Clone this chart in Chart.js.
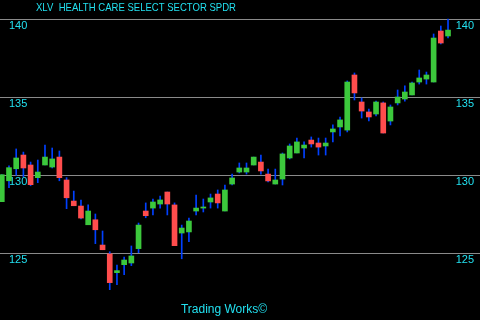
<!DOCTYPE html>
<html>
<head>
<meta charset="utf-8">
<script src="https://cdn.jsdelivr.net/npm/chart.js@4/dist/chart.umd.min.js"></script>
<style>
html,body{margin:0;padding:0;background:#000;}
canvas{display:block;}
</style>
</head>
<body>
<canvas id="c" width="480" height="320"></canvas>
<script>
const chartTitle = "XLV  HEALTH CARE SELECT SECTOR SPDR";
const footerText = "Trading Works\u00A9";
const tickValues = [125, 130, 135, 140];

const opens  = [128.29,129.63,130.40,131.28,130.64,129.83,130.64,130.51,131.15,129.68,
                128.33,128.01,126.81,127.13,125.51,124.94,123.74,124.25,124.36,125.28,
                127.69,127.88,128.14,128.91,128.08,126.28,126.35,127.69,127.88,128.27,
                128.78,127.69,129.42,130.19,130.19,130.64,130.83,130.06,129.42,129.74,
                131.09,131.41,131.73,132.24,132.05,131.86,132.76,133.08,132.88,136.41,
                134.68,134.04,133.91,134.62,133.46,134.62,134.87,135.13,135.96,136.15,
                135.96,139.23,138.91];
const highs  = [130.02,130.58,131.67,131.47,130.83,130.96,131.92,131.73,131.54,129.83,
                128.97,128.40,128.08,127.50,126.41,125.08,124.23,124.74,125.45,126.92,
                128.21,128.46,128.65,128.91,128.21,126.79,127.24,128.72,128.46,128.78,
                129.04,129.36,130.06,130.77,130.77,131.15,131.28,130.38,130.38,131.41,
                131.99,132.37,132.12,132.44,132.37,132.37,133.21,133.72,136.03,136.54,
                134.94,134.23,134.74,134.68,134.49,135.45,135.71,135.96,136.73,136.60,
                139.04,139.55,140.00];
const lows   = [128.29,129.19,129.98,129.89,129.31,129.51,130.64,130.45,129.63,127.84,
                128.03,127.18,126.81,125.60,125.21,122.65,122.97,123.61,124.19,125.02,
                127.26,127.44,127.88,127.44,125.47,124.63,125.72,127.44,127.63,127.88,
                127.88,127.69,129.36,130.13,130.06,130.64,130.06,129.55,129.42,129.36,
                131.03,131.41,131.09,131.79,131.28,131.28,132.12,132.50,132.76,134.81,
                133.65,133.46,133.78,132.69,133.21,134.49,134.74,135.13,135.83,135.83,
                135.96,138.40,138.78];
const closes = [130.02,130.47,131.09,130.45,129.38,130.19,131.15,131.03,129.83,128.54,
                128.03,127.24,127.69,126.49,125.21,123.10,123.87,124.55,124.81,126.79,
                127.39,128.27,128.40,128.14,125.47,126.60,127.05,127.88,127.95,128.53,
                128.21,129.04,129.81,130.45,130.45,131.15,130.26,129.62,129.68,131.35,
                131.86,132.12,131.92,131.99,131.79,132.05,132.95,133.53,135.96,135.26,
                134.10,133.72,134.68,132.69,134.36,135.00,135.32,135.90,136.22,136.41,
                138.78,138.46,139.29];

const UP = '#3cc83c', DOWN = '#ff4d4d', WICK = '#0040ff', TEXT = '#22e0f0', GRID = '#8a8a8a';

const bodyData = opens.map((o, i) => ({x: i, y: [o, closes[i]]}));
const wickData = highs.map((h, i) => ({x: i, y: [lows[i], h]}));
const bodyColors = opens.map((o, i) => closes[i] >= o ? UP : DOWN);

const textPlugin = {
  id: 'texts',
  afterDraw(chart) {
    const ctx = chart.ctx;
    ctx.save();
    ctx.fillStyle = TEXT;
    ctx.font = '11px "Liberation Sans", Arial, sans-serif';
    ctx.textBaseline = 'alphabetic';
    ctx.textAlign = 'left';
    const tw = ctx.measureText(chartTitle).width;
    ctx.translate(36, 11);
    ctx.scale(200 / tw, 1);
    ctx.fillText(chartTitle, 0, 0);
    ctx.restore();
    ctx.save();
    ctx.fillStyle = TEXT;
    ctx.font = '12px "Liberation Sans", Arial, sans-serif';
    ctx.textAlign = 'center';
    ctx.textBaseline = 'alphabetic';
    ctx.fillText(footerText, 224, 313);
    ctx.restore();
  }
};

const zeroFit = s => { s.width = 0; s.paddingTop = 0; s.paddingBottom = 0; s.paddingLeft = 0; s.paddingRight = 0; };

const yMax = 140 + 19 / 15.6;
const yMin = 140 - 301 / 15.6;
const step = 7.197;
const xMin = -1.8 / step;
const xMax = xMin + 480 / step;

new Chart(document.getElementById('c'), {
  type: 'bar',
  data: {
    datasets: [
      {data: bodyData, backgroundColor: bodyColors, barThickness: 5, grouped: false, order: 0, borderWidth: 0},
      {data: wickData, backgroundColor: WICK, barThickness: 1, grouped: false, order: 1, borderWidth: 0}
    ]
  },
  options: {
    responsive: false,
    animation: false,
    layout: {padding: 0},
    plugins: {legend: {display: false}, tooltip: {enabled: false}},
    scales: {
      x: {type: 'linear', min: xMin, max: xMax, offset: false, display: false, grid: {offset: false}},
      y: {
        position: 'left', min: yMin, max: yMax,
        afterBuildTicks: s => { s.ticks = tickValues.map(v => ({value: v})); },
        afterFit: zeroFit,
        grid: {color: GRID, lineWidth: 1, drawTicks: false},
        border: {display: false},
        ticks: {mirror: true, padding: 9, labelOffset: 7, color: TEXT,
                font: {family: '"Liberation Sans", Arial, sans-serif', size: 11}}
      },
      y2: {
        position: 'right', min: yMin, max: yMax,
        afterBuildTicks: s => { s.ticks = tickValues.map(v => ({value: v})); },
        afterFit: zeroFit,
        grid: {display: false, drawTicks: false},
        border: {display: false},
        ticks: {mirror: true, padding: -6, labelOffset: 7, color: TEXT,
                font: {family: '"Liberation Sans", Arial, sans-serif', size: 11}}
      }
    }
  },
  plugins: [textPlugin]
});
</script>
</body>
</html>
